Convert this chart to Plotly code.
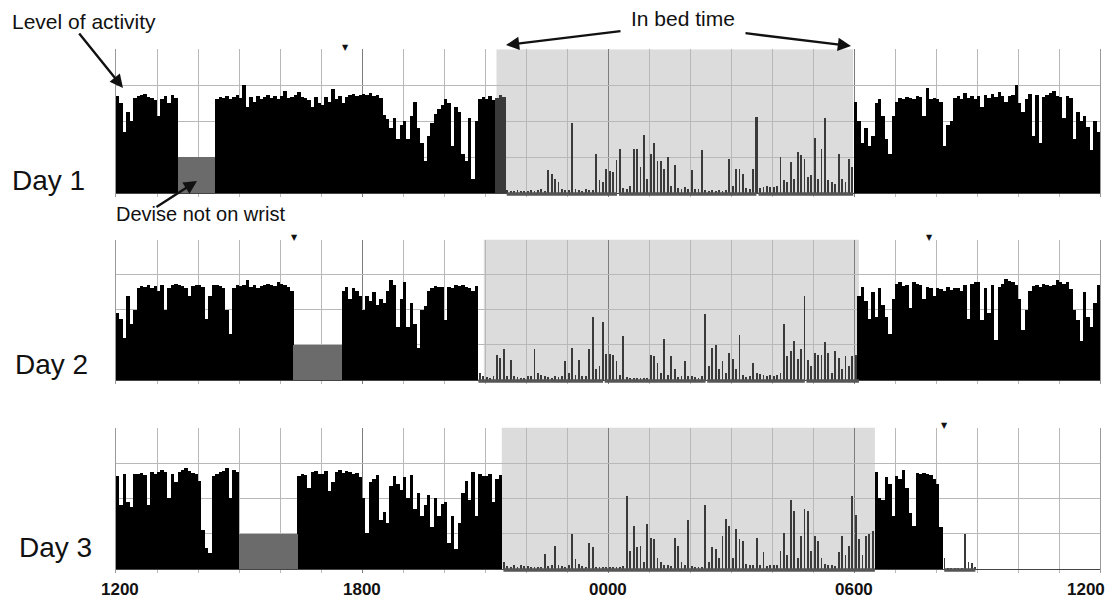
import numpy as np
import plotly.graph_objects as go

# ---------------- data (5-minute activity counts, 12:00 -> 12:00) ----------------
day1_activity = [
    270, 250, 170, 225, 200, 265, 270, 272, 275, 268, 265, 260,
    215, 262, 270, 250, 272, 265, 0, 0, 0, 0, 0, 0,
    0, 0, 0, 0, 0, 262, 268, 265, 270, 262, 268, 272,
    265, 300, 240, 268, 255, 270, 262, 268, 272, 265, 270, 262,
    270, 285, 265, 268, 272, 282, 268, 265, 260, 240, 268, 250,
    245, 268, 255, 290, 262, 270, 250, 268, 272, 275, 270, 272,
    275, 272, 278, 270, 272, 265, 218, 205, 180, 210, 150, 190,
    200, 150, 215, 255, 180, 140, 90, 160, 195, 220, 235, 245,
    262, 250, 130, 240, 225, 110, 90, 210, 40, 200, 262, 268,
    262, 270, 258, 265, 272, 268, 8, 6, 5, 8, 6, 5,
    6, 8, 5, 7, 10, 6, 64, 54, 40, 30, 12, 8,
    8, 194, 10, 8, 6, 12, 9, 7, 110, 35, 30, 68,
    60, 59, 92, 124, 15, 10, 20, 124, 124, 73, 162, 40,
    110, 138, 90, 88, 68, 101, 20, 78, 15, 12, 17, 10,
    65, 12, 10, 120, 8, 6, 7, 5, 8, 6, 7, 94,
    20, 68, 68, 54, 15, 10, 68, 213, 15, 18, 20, 16,
    18, 20, 101, 35, 30, 87, 40, 115, 106, 96, 45, 50,
    154, 40, 124, 208, 35, 30, 25, 110, 40, 30, 96, 73,
    255, 200, 140, 180, 130, 160, 250, 262, 215, 150, 110, 215,
    255, 265, 262, 268, 265, 262, 270, 268, 215, 292, 262, 265,
    262, 255, 130, 190, 200, 265, 270, 262, 278, 265, 270, 262,
    270, 240, 272, 265, 275, 268, 282, 270, 255, 270, 272, 300,
    250, 225, 262, 275, 160, 272, 140, 268, 272, 280, 285, 270,
    268, 210, 270, 265, 150, 225, 200, 215, 185, 120, 200, 170,
]
day2_activity = [
    190, 175, 120, 240, 160, 200, 262, 268, 265, 270, 262, 268,
    255, 270, 200, 262, 270, 275, 272, 268, 262, 240, 268, 272,
    272, 265, 175, 240, 272, 270, 268, 262, 200, 130, 262, 270,
    268, 272, 284, 265, 270, 262, 268, 272, 275, 270, 268, 280,
    275, 270, 265, 255, 0, 0, 0, 0, 0, 0, 0, 0,
    0, 0, 0, 0, 0, 0, 255, 265, 230, 262, 255, 240,
    200, 240, 225, 250, 215, 230, 220, 255, 284, 270, 150, 230,
    280, 150, 220, 160, 90, 200, 210, 255, 262, 268, 265, 265,
    170, 265, 262, 272, 268, 270, 265, 262, 255, 268, 20, 10,
    8, 6, 10, 72, 63, 87, 12, 58, 10, 8, 6, 7,
    10, 12, 87, 20, 15, 10, 8, 6, 12, 8, 10, 54,
    20, 90, 15, 58, 12, 10, 87, 181, 30, 40, 164, 75,
    75, 70, 54, 15, 126, 8, 6, 5, 6, 5, 6, 7,
    70, 68, 49, 20, 117, 15, 68, 30, 8, 10, 54, 12,
    10, 8, 6, 12, 187, 40, 91, 101, 30, 54, 20, 77,
    60, 30, 129, 15, 8, 10, 49, 20, 16, 15, 12, 14,
    10, 15, 20, 159, 68, 82, 110, 60, 87, 239, 58, 40,
    77, 72, 72, 107, 77, 20, 82, 63, 30, 68, 40, 68,
    70, 240, 265, 225, 175, 250, 180, 262, 215, 180, 130, 230,
    275, 280, 268, 270, 205, 280, 275, 272, 230, 265, 262, 240,
    262, 260, 255, 265, 258, 262, 262, 255, 270, 175, 275, 280,
    278, 170, 262, 190, 270, 115, 265, 275, 289, 282, 280, 272,
    230, 143, 200, 255, 268, 270, 265, 275, 270, 268, 272, 284,
    280, 275, 278, 260, 200, 170, 110, 250, 180, 150, 220, 270,
]
day3_activity = [
    262, 180, 270, 190, 175, 268, 270, 272, 265, 180, 275, 270,
    275, 280, 276, 200, 270, 245, 275, 280, 285, 278, 272, 268,
    250, 110, 60, 45, 262, 270, 275, 278, 285, 200, 280, 275,
    0, 0, 0, 0, 0, 0, 0, 0, 0, 0, 0, 0,
    0, 0, 0, 0, 0, 262, 270, 265, 230, 275, 278, 270,
    268, 278, 220, 245, 275, 280, 272, 278, 275, 270, 272, 260,
    200, 103, 245, 255, 266, 140, 160, 130, 235, 262, 240, 225,
    260, 200, 266, 170, 215, 150, 180, 210, 120, 200, 150, 185,
    190, 75, 150, 56, 130, 215, 248, 196, 276, 150, 270, 262,
    262, 268, 190, 255, 265, 20, 8, 6, 10, 7, 12, 8,
    8, 6, 5, 7, 6, 42, 8, 10, 65, 12, 8, 6,
    10, 100, 28, 14, 8, 6, 75, 61, 6, 5, 6, 5,
    5, 6, 5, 7, 8, 206, 51, 122, 61, 65, 20, 126,
    89, 84, 30, 20, 12, 10, 8, 89, 65, 20, 10, 138,
    8, 6, 5, 7, 180, 20, 61, 56, 30, 94, 142, 122,
    30, 112, 84, 79, 15, 10, 12, 89, 10, 47, 8, 10,
    10, 12, 51, 103, 40, 196, 164, 30, 94, 170, 164, 50,
    94, 79, 30, 15, 10, 12, 8, 47, 94, 40, 65, 206,
    154, 84, 40, 94, 98, 108, 276, 200, 196, 260, 240, 150,
    262, 255, 280, 230, 159, 122, 271, 268, 271, 270, 265, 255,
    240, 120, 30, 3, 3, 4, 3, 3, 98, 19, 18, 5,
    0, 0, 0, 0, 0, 0, 0, 0, 0, 0, 0, 0,
    0, 0, 0, 0, 0, 0, 0, 0, 0, 0, 0, 0,
    0, 0, 0, 0, 0, 0, 0, 0, 0, 0, 0, 0,
]

# hours after 12:00
day1_bed = [9.28, 17.98]
day2_bed = [8.97, 18.12]
day3_bed = [9.41, 18.51]
day1_rest = [[9.53, 12.22], [12.27, 15.62], [15.67, 17.98]]
day2_rest = [[8.84, 11.88], [11.92, 14.38], [14.42, 16.80], [16.84, 18.12]]
day3_rest = [[9.45, 18.51], [20.20, 20.96]]
day1_offwrist = [1.50, 2.42]
day2_offwrist = [4.31, 5.52]
day3_offwrist = [3.01, 4.44]
offwrist_level = 100
day1_events = [5.6]
day2_events = [4.36, 19.85]
day3_events = [20.2]

day_labels = ["Day 1", "Day 2", "Day 3"]
tick_hours = [0, 6, 12, 18, 24]
tick_text = ["1200", "1800", "0000", "0600", "1200"]

# ---------------- layout constants ----------------
W, H = 1113, 600
BIN = 1 / 12
X_LEFT, X_RIGHT = 116, 1100
# (top pixel of 400 line, baseline pixel) per panel
PANELS = [(49.5, 193.0), (239.7, 380.0), (427.7, 569.0)]
YMIN, YMAX = -10, 400.5

days = [
    (day1_activity, day1_bed, day1_rest, day1_offwrist, day1_events),
    (day2_activity, day2_bed, day2_rest, day2_offwrist, day2_events),
    (day3_activity, day3_bed, day3_rest, day3_offwrist, day3_events),
]

fig = go.Figure()
shapes = []
layout_axes = {}
annotations = []

for k, (act, bed, rest, off, ev) in enumerate(days, start=1):
    xa = "x" if k == 1 else f"x{k}"
    ya = "y" if k == 1 else f"y{k}"
    act = np.array(act, dtype=float)
    t = (np.arange(len(act)) + 0.5) * BIN
    in_bed = (t >= bed[0]) & (t < bed[1])
    in_rest = np.zeros(len(t), dtype=bool)
    for a, b in rest:
        in_rest |= (t >= a) & (t < b)
    colors = np.where(in_bed | in_rest, "#3a3a3a", "#000000")
    widths = np.where(in_rest, BIN * 0.55, BIN)

    # bed shading
    shapes.append(dict(type="rect", xref=xa, yref=ya, x0=bed[0], x1=bed[1],
                       y0=0, y1=YMAX, fillcolor="#dcdcdc", line_width=0, layer="below"))

    fig.add_trace(go.Bar(x=t, y=act, width=widths, marker=dict(color=colors, line_width=0),
                         xaxis=xa, yaxis=ya, hoverinfo="skip"))
    # device off wrist
    fig.add_trace(go.Bar(x=[(off[0] + off[1]) / 2], y=[offwrist_level], width=[off[1] - off[0]],
                         base=0, marker=dict(color="#6b6b6b", line_width=0),
                         xaxis=xa, yaxis=ya, hoverinfo="skip"))
    # rest / sleep line along baseline
    lx, ly = [], []
    for a, b in rest:
        lx += [a, b, None]
        ly += [-3, -3, None]
    fig.add_trace(go.Scatter(x=lx, y=ly, mode="lines", line=dict(color="#555555", width=3.5),
                             xaxis=xa, yaxis=ya, hoverinfo="skip"))
    # event markers (small triangles above the panel)
    for e in ev:
        annotations.append(dict(x=e, y=400, xref=xa, yref=ya, text="\u25BC", showarrow=False,
                                xanchor="center", yanchor="bottom", yshift=-4,
                                font=dict(family="DejaVu Sans", size=8, color="#111111")))

    top_px, base_px = PANELS[k - 1]
    unit = (base_px - top_px) / 400
    bottom_px = base_px - YMIN * unit
    upper_px = top_px - (YMAX - 400) * unit
    layout_axes["xaxis" if k == 1 else f"xaxis{k}"] = dict(
        domain=[X_LEFT / W, X_RIGHT / W], anchor=ya, range=[0, 24],
        tickmode="linear", tick0=0, dtick=6, showgrid=True, gridcolor="#7d7d7d", gridwidth=1,
        minor=dict(tick0=0, dtick=1, showgrid=True, gridcolor="#b8b8b8", gridwidth=1),
        showticklabels=False, ticks="", zeroline=False, showline=False, fixedrange=True)
    layout_axes["yaxis" if k == 1 else f"yaxis{k}"] = dict(
        domain=[1 - bottom_px / H, 1 - upper_px / H], anchor=xa, range=[YMIN, YMAX],
        tickmode="linear", tick0=0, dtick=100, showgrid=True, gridcolor="#b8b8b8", gridwidth=1,
        zeroline=True, zerolinecolor="#444444", zerolinewidth=1,
        showline=True, mirror=True, linecolor="#9a9a9a", linewidth=1,
        showticklabels=False, ticks="", fixedrange=True)

FONT = "Liberation Sans, Arial, Helvetica, sans-serif"


def px_x(x):
    return x / W


def px_y(y):
    return 1 - y / H


def arrow(tip, tail):
    return dict(x=px_x(tip[0]), y=px_y(tip[1]), xref="paper", yref="paper",
                ax=tail[0] - tip[0], ay=tail[1] - tip[1], text="", showarrow=True,
                arrowhead=2, arrowsize=1.1, arrowwidth=2.4, arrowcolor="#111111")


annotations += [
    arrow((123, 88), (78, 32)),
    arrow((506, 45), (622, 31)),
    arrow((851, 46), (744, 33)),
    arrow((197, 181), (155, 208)),
]
annotations += [
    dict(x=px_x(10), y=px_y(21), xref="paper", yref="paper", text="Level of activity",
         showarrow=False, xanchor="left", yanchor="middle", font=dict(family=FONT, size=21, color="#111")),
    dict(x=px_x(683), y=px_y(18), xref="paper", yref="paper", text="In bed time",
         showarrow=False, xanchor="center", yanchor="middle", font=dict(family=FONT, size=21, color="#111")),
    dict(x=px_x(114), y=px_y(214), xref="paper", yref="paper", text="Devise not on wrist",
         showarrow=False, xanchor="left", yanchor="middle", font=dict(family=FONT, size=20, color="#111")),
]
for (lbl, lx_, ly_) in zip(day_labels, [10, 13, 17], [180, 364, 547]):
    annotations.append(dict(x=px_x(lx_), y=px_y(ly_), xref="paper", yref="paper", text=lbl,
                            showarrow=False, xanchor="left", yanchor="middle",
                            font=dict(family=FONT, size=28, color="#111")))
for i, (hv, tx) in enumerate(zip(tick_hours, tick_text)):
    shift = 4 if i == 0 else (7 if i == len(tick_hours) - 1 else 0)
    anchor = "right" if i == len(tick_hours) - 1 else "center"
    annotations.append(dict(x=hv, y=px_y(589), xref="x3", yref="paper", text=f"<b>{tx}</b>",
                            showarrow=False, xanchor=anchor, yanchor="middle", xshift=shift,
                            font=dict(family="Liberation Sans Narrow, Arial Narrow, " + FONT,
                                      size=17, color="#111")))

fig.update_layout(
    width=W, height=H, margin=dict(l=0, r=0, t=0, b=0),
    paper_bgcolor="white", plot_bgcolor="white", showlegend=False,
    barmode="overlay", bargap=0, shapes=shapes, annotations=annotations,
    **layout_axes,
)

fig.write_html(
    "out.html",
    config={"displayModeBar": False, "staticPlot": True},
    post_script="document.body.style.margin='0';document.body.style.overflow='hidden';",
)
